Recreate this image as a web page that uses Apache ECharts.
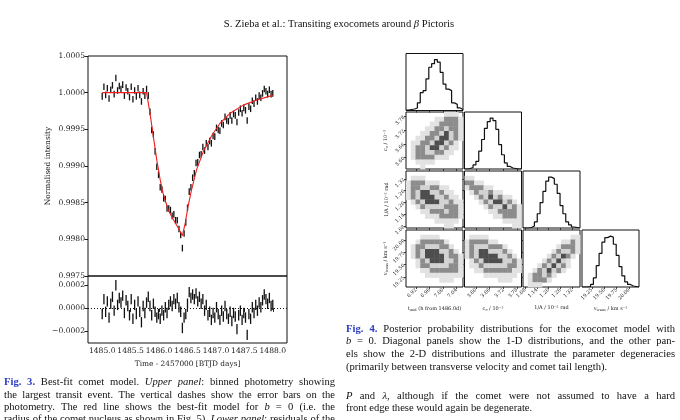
<!DOCTYPE html>
<html>
<head>
<meta charset="utf-8">
<script src="https://cdn.jsdelivr.net/npm/echarts@6/dist/echarts.min.js"></script>
<style>
  html, body { margin: 0; padding: 0; background: #fff; }
  #chart { width: 680px; height: 420px; }
</style>
</head>
<body>
<div id="chart"></div>
<script>
// ---- Fig. 3 : binned photometry, time = BTJD - 2457000 ----
const binStart = 1485.0
const binStep = 0.03
const flux = [
  0.99995, 1.00008, 0.99997, 1.00006, 0.99992, 1.00004, 1.00010, 0.99998, 1.00020, 1.00003,
  1.00009, 1.00005, 1.00011, 0.99996, 1.00007, 1.00002, 0.99994, 1.00008, 0.99991, 1.00003,
  0.99995, 1.00006, 0.99997, 0.99988, 1.00002, 0.99996, 1.00005, 0.99996, 0.99974, 0.99949,
  0.99943, 0.99920, 0.99899, 0.99888, 0.99871, 0.99868, 0.99856, 0.99855, 0.99842, 0.99842,
  0.99840, 0.99832, 0.99834, 0.99826, 0.99826, 0.99814, 0.99806, 0.99788, 0.99808, 0.99823,
  0.99843, 0.99865, 0.99871, 0.99884, 0.99890, 0.99904, 0.99905, 0.99915, 0.99916, 0.99926,
  0.99921, 0.99931, 0.99926, 0.99934, 0.99931, 0.99941, 0.99940, 0.99952, 0.99949, 0.99948,
  0.99958, 0.99956, 0.99967, 0.99962, 0.99961, 0.99969, 0.99962, 0.99971, 0.99969, 0.99960,
  0.99973, 0.99978, 0.99972, 0.99979, 0.99976, 0.99962, 0.99981, 0.99978, 0.99989, 0.99985,
  0.99993, 0.99988, 0.99996, 0.99993, 0.99999, 1.00005, 1.00002, 0.99998, 1.00004, 0.99998,
  0.99999
]
const resid = [
  -0.00005, 0.00008, -0.00003, 0.00006, -0.00008, 0.00004, 0.00010, -0.00002, 0.00020, 0.00003,
  0.00009, 0.00005, 0.00011, -0.00004, 0.00007, 0.00002, -0.00006, 0.00008, -0.00009, 0.00003,
  -0.00005, 0.00006, -0.00003, -0.00012, 0.00002, -0.00004, 0.00005, 0.00010, 0.00002, -0.00006,
  0.00004, -0.00003, -0.00008, -0.00005, -0.00009, -0.00002, -0.00006, 0.00001, -0.00004, 0.00003,
  0.00006, 0.00002, 0.00008, 0.00004, 0.00009, 0.00001, -0.00003, -0.00017, -0.00008, -0.00005,
  0.00004, 0.00014, 0.00009, 0.00012, 0.00008, 0.00013, 0.00006, 0.00010, 0.00004, 0.00008,
  -0.00002, 0.00003, -0.00006, -0.00003, -0.00010, -0.00004, -0.00008, 0.00001, -0.00005, -0.00010,
  -0.00002, -0.00007, 0.00002, -0.00005, -0.00009, -0.00003, -0.00011, -0.00004, -0.00007, -0.00018,
  -0.00006, -0.00002, -0.00010, -0.00004, -0.00008, -0.00023, -0.00005, -0.00009, 0.00001, -0.00004,
  0.00003, -0.00002, 0.00005, 0.00001, 0.00007, 0.00012, 0.00008, 0.00004, 0.00009, 0.00002,
  0.00003
]
const fluxErr = 0.000045
const modelTime = [1485.00, 1485.78, 1485.84, 1485.90, 1485.96, 1486.02, 1486.07, 1486.16, 1486.25, 1486.34,
  1486.41, 1486.46, 1486.51, 1486.57, 1486.66, 1486.78, 1486.93, 1487.07, 1487.25, 1487.48, 1487.72, 1487.98, 1488.00]
const modelFlux = [1.00000, 1.00000, 0.99972, 0.99940, 0.99908, 0.99881, 0.99863, 0.99840, 0.99827, 0.99815,
  0.99805, 0.99822, 0.99845, 0.99867, 0.99895, 0.99920, 0.99942, 0.99958, 0.99972, 0.99983, 0.99990, 0.99996, 0.99996]
const timeTicks = [1485.0, 1485.5, 1486.0, 1486.5, 1487.0, 1487.5, 1488.0]
const fluxTicks = [0.9975, 0.9980, 0.9985, 0.9990, 0.9995, 1.0000, 1.0005]
const residTicks = [-0.0002, 0, 0.0002]

// ---- Fig. 4 : corner plot ----
const tmidRange = [6.89, 7.06]
const ceRange = [3.55, 3.80]
const invARange = [1.07, 1.36]
const vRange = [19.05, 20.20]
const tmidTicks = [6.92, 6.96, 7.00, 7.04]
const ceTicks = [3.60, 3.66, 3.72, 3.78]
const invATicks = [1.08, 1.14, 1.20, 1.26, 1.32]
const vTicks = [19.25, 19.50, 19.75, 20.00]
// 1-D histograms, 20 bins, relative counts
const histTmid = [0.01, 0.02, 0.03, 0.05, 0.15, 0.35, 0.39, 0.62, 0.85, 0.92, 1.0, 0.95, 0.75, 0.52, 0.42, 0.39, 0.15, 0.12, 0.05, 0.02]
const histCe = [0, 0.01, 0.03, 0.08, 0.15, 0.35, 0.58, 0.80, 0.93, 1.0, 0.95, 0.78, 0.48, 0.28, 0.12, 0.05, 0.02, 0.01, 0, 0]
const histInvA = [0, 0, 0.01, 0.04, 0.12, 0.28, 0.50, 0.72, 0.92, 1.0, 0.97, 0.86, 0.68, 0.44, 0.28, 0.12, 0.06, 0.02, 0.01, 0]
const histV = [0, 0, 0.01, 0.05, 0.18, 0.42, 0.66, 0.88, 0.97, 1.0, 0.98, 0.84, 0.62, 0.40, 0.22, 0.10, 0.05, 0.02, 0.01, 0]
// 2-D density, top row first: 0 empty, 1 sparse points, 2 outer contour, 3 inside, 4 core
const densTmidCe = [
  '000000001110', '000000112221', '000001122221', '000011223221', '000112234321', '001122344321',
  '011223443210', '012234432110', '012233221100', '012222111000', '001111000000', '000100000000']
const densTmidInvA = [
  '000000000000', '011100000000', '122211100000', '122332211000', '123443321100', '123444332110',
  '012344433211', '001233332221', '000112223221', '000011122221', '000000111110', '000000001100']
const densCeInvA = [
  '000000000000', '110000000000', '221100000000', '122211000000', '012332110000', '001234321100',
  '000123443210', '000012334321', '000001122221', '000000112221', '000000001111', '000000000011']
const densTmidV = [
  '000000000000', '000111100000', '001222221000', '012233322100', '012344433210', '012344443221',
  '001234443321', '001223333221', '000112222221', '000011111111', '000000011100', '000000000000']
const densCeV = [
  '000000000000', '011110000000', '122221100000', '123332221000', '123443332100', '123444433210',
  '012344443321', '011233333221', '001122222211', '000011111110', '000000011100', '000000000000']
const densInvAV = [
  '000000000000', '000000000011', '000000001121', '000000012221', '000000123321', '000001234210',
  '000012343100', '000123432100', '001234321000', '012232100000', '012221000000', '011100000000']

const ranges = [tmidRange, ceRange, invARange, vRange]
const ticks = [tmidTicks, ceTicks, invATicks, vTicks]
const hists = [histTmid, histCe, histInvA, histV]
const dens = { '1,0': densTmidCe, '2,0': densTmidInvA, '2,1': densCeInvA, '3,0': densTmidV, '3,1': densCeV, '3,2': densInvAV }
const xNames = ['{n|t}{s|mid}{n| (h from 1486.0d)}', 'c{s|e}{n| / 10⁻³}', '1/A / 10⁻² rad', 'v{s|trans}{n| / km s⁻¹}']
const shades = ['#ffffff', '#e2e2e2', '#8c8c8c', '#d2d2d2', '#4e4e4e']

const chart = echarts.init(document.getElementById('chart'))
const serif = 'DejaVu Serif'
const ink = '#1a1a1a'

const times = flux.map((_, i) => +(binStart + binStep * i).toFixed(2))

const grids = [
  { left: 88, top: 56, width: 199, height: 220 },
  { left: 88, top: 276, width: 199, height: 67 }
]
const xAxes = [
  { gridIndex: 0, type: 'value', min: 1484.75, max: 1488.25, axisLine: { show: false },
    axisLabel: { show: false }, axisTick: { show: false }, splitLine: { show: false } },
  { gridIndex: 1, type: 'value', min: 1484.75, max: 1488.25, axisLine: { show: false },
    axisTick: { customValues: timeTicks, length: 3.5, lineStyle: { color: ink } },
    axisLabel: { customValues: timeTicks, formatter: v => v.toFixed(1), margin: 4, fontSize: 7.6, fontFamily: serif, color: ink },
    splitLine: { show: false },
    name: 'Time - 2457000 [BTJD days]', nameLocation: 'middle', nameGap: 18,
    nameTextStyle: { fontSize: 7.4, fontFamily: serif, color: ink } }
]
const yAxes = [
  { gridIndex: 0, type: 'value', min: 0.9975, max: 1.0005, axisLine: { show: false },
    axisTick: { customValues: fluxTicks, length: 3.5, lineStyle: { color: ink } },
    axisLabel: { customValues: fluxTicks, formatter: v => v.toFixed(4), margin: 3, fontSize: 7.6, fontFamily: serif, color: ink },
    splitLine: { show: false },
    name: 'Normalised intensity', nameLocation: 'middle', nameGap: 36,
    nameTextStyle: { fontSize: 7.4, fontFamily: serif, color: ink } },
  { gridIndex: 1, type: 'value', min: -0.0003, max: 0.00028, axisLine: { show: false },
    axisTick: { customValues: residTicks, length: 3.5, lineStyle: { color: ink } },
    axisLabel: { customValues: residTicks, margin: 3, fontSize: 7.6, fontFamily: serif, color: ink,
      formatter: v => (v < 0 ? '\u2212' : '') + Math.abs(v).toFixed(4) },
    splitLine: { show: false } }
]

const errBar = (params, api) => {
  const lo = api.coord([api.value(0), api.value(1) - fluxErr])
  const hi = api.coord([api.value(0), api.value(1) + fluxErr])
  return { type: 'line', shape: { x1: lo[0], y1: lo[1], x2: hi[0], y2: hi[1] }, style: { stroke: '#111', lineWidth: 1.3 } }
}

const series = [
  { type: 'custom', xAxisIndex: 0, yAxisIndex: 0, renderItem: errBar, silent: true, z: 2,
    data: times.map((t, i) => [t, flux[i]]) },
  { type: 'line', xAxisIndex: 0, yAxisIndex: 0, showSymbol: false, silent: true, z: 3,
    lineStyle: { color: '#ee1c1c', width: 1.1 }, data: modelTime.map((t, i) => [t, modelFlux[i]]) },
  { type: 'custom', xAxisIndex: 1, yAxisIndex: 1, renderItem: errBar, silent: true, z: 2,
    data: times.map((t, i) => [t, resid[i]]),
    markLine: { silent: true, symbol: 'none', label: { show: false },
      lineStyle: { color: '#111', type: [1, 2], width: 1 }, data: [{ yAxis: 0 }] } }
]

// corner plot panels
const cellLeft = [406, 464.5, 523, 582]
const cellTop = [53.5, 112, 171, 230]
const cellSize = 57
const smallLabel = { fontSize: 5, fontFamily: serif, color: ink, rotate: 45, margin: 2 }
const nameStyle = { fontSize: 5, fontFamily: serif + ', DejaVu Sans', color: ink,
  rich: { n: { fontSize: 5, fontFamily: serif }, s: { fontSize: 3.6, fontFamily: serif, padding: [3, 0, 0, 0] } } }

for (let r = 0; r < 4; r++) {
  for (let c = 0; c <= r; c++) {
    const gi = grids.length
    grids.push({ left: cellLeft[c], top: cellTop[r], width: cellSize, height: cellSize })
    const xa = { gridIndex: gi, type: 'value', min: ranges[c][0], max: ranges[c][1], axisLine: { show: false },
      splitLine: { show: false },
      axisTick: { customValues: ticks[c], length: 2, lineStyle: { color: ink, width: 0.8 } },
      axisLabel: Object.assign({ show: r === 3, customValues: ticks[c], formatter: v => v.toFixed(2) }, smallLabel) }
    if (r === 3) Object.assign(xa, { name: xNames[c], nameLocation: 'middle', nameGap: 18, nameTextStyle: nameStyle })
    let ya
    if (r === c) {
      ya = { gridIndex: gi, type: 'value', min: 0, max: 1.12, axisLine: { show: false }, splitLine: { show: false },
        axisTick: { show: false }, axisLabel: { show: false } }
    } else {
      ya = { gridIndex: gi, type: 'value', min: ranges[r][0], max: ranges[r][1], axisLine: { show: false },
        splitLine: { show: false },
        axisTick: { customValues: ticks[r], length: 2, lineStyle: { color: ink, width: 0.8 } },
        axisLabel: Object.assign({ show: c === 0, customValues: ticks[r], formatter: v => v.toFixed(2) }, smallLabel) }
      if (c === 0) Object.assign(ya, { name: xNames[r], nameLocation: 'middle', nameGap: 17, nameTextStyle: nameStyle })
    }
    xAxes.push(xa)
    yAxes.push(ya)
    const ai = xAxes.length - 1
    if (r === c) {
      const h = hists[c]
      const [lo, hi] = ranges[c]
      const w = (hi - lo) / h.length
      const pts = h.map((v, j) => [lo + j * w, v])
      pts.push([hi, h[h.length - 1]])
      series.push({ type: 'line', step: 'end', xAxisIndex: ai, yAxisIndex: ai, showSymbol: false, silent: true,
        lineStyle: { color: '#111', width: 1.2 }, data: pts })
    } else {
      const g = dens[r + ',' + c]
      const [x0, x1] = ranges[c]
      const [y0, y1] = ranges[r]
      const n = g.length
      const dx = (x1 - x0) / g[0].length
      const dy = (y1 - y0) / n
      const cells = []
      g.forEach((row, i) => {
        row.split('').forEach((ch, j) => {
          const lvl = +ch
          if (lvl) cells.push([x0 + j * dx, x0 + (j + 1) * dx, y1 - (i + 1) * dy, y1 - i * dy, lvl])
        })
      })
      series.push({ type: 'custom', xAxisIndex: ai, yAxisIndex: ai, silent: true, encode: { x: [0, 1], y: [2, 3] },
        data: cells,
        renderItem: (params, api) => {
          const p0 = api.coord([api.value(0), api.value(3)])
          const p1 = api.coord([api.value(1), api.value(2)])
          return { type: 'rect', shape: { x: p0[0], y: p0[1], width: p1[0] - p0[0] + 0.4, height: p1[1] - p0[1] + 0.4 },
            style: { fill: shades[api.value(4)] } }
        } })
    }
  }
}
grids.forEach(g => Object.assign(g, { show: true, borderColor: '#111', borderWidth: 1, backgroundColor: 'transparent', outerBoundsMode: 'none' }))

// ---- page text ----
const measureCtx = document.createElement('canvas').getContext('2d')
const kinds = {
  n: { fontStyle: 'normal', fontWeight: 'normal', fill: '#111' },
  i: { fontStyle: 'italic', fontWeight: 'normal', fill: '#111' },
  b: { fontStyle: 'normal', fontWeight: 'bold', fill: '#2a3bc4' }
}
const textEls = []
function fontOf(k, size) {
  return `${kinds[k].fontStyle} ${kinds[k].fontWeight} ${size}px "Liberation Serif"`
}
function widthOf(t, k, size) {
  measureCtx.font = fontOf(k, size)
  return measureCtx.measureText(t).width
}
// place words of a line; width given -> justified, center given -> centred
function placeLine(segs, x, y, size, opts = {}) {
  const words = []
  let cur = []
  segs.forEach(([t, k]) => {
    t.split(' ').forEach((part, j) => {
      if (j > 0 && cur.length) { words.push(cur); cur = [] }
      if (part) cur.push({ t: part, k })
    })
  })
  if (cur.length) words.push(cur)
  const ww = words.map(w => w.reduce((s, run) => s + widthOf(run.t, run.k, size), 0))
  const total = ww.reduce((a, b) => a + b, 0)
  const space = widthOf(' ', 'n', size)
  let gap = space
  if (opts.width && words.length > 1) gap = (opts.width - total) / (words.length - 1)
  let px = x
  if (opts.center != null) px = opts.center - (total + space * (words.length - 1)) / 2
  words.forEach((w, wi) => {
    let rx = px
    w.forEach(run => {
      textEls.push({ type: 'text', x: rx, y, silent: true,
        style: { text: run.t, fontFamily: 'Liberation Serif', fontSize: size, fontStyle: kinds[run.k].fontStyle,
          fontWeight: kinds[run.k].fontWeight, fill: kinds[run.k].fill, align: 'left', verticalAlign: 'middle' } })
      rx += widthOf(run.t, run.k, size)
    })
    px += ww[wi] + gap
  })
}

const header = [['S. Zieba et al.: Transiting exocomets around ', 'n'], ['\u03b2', 'i'], [' Pictoris', 'n']]
const fig3Caption = [
  [['Fig. 3.', 'b'], [' Best-fit comet model. ', 'n'], ['Upper panel', 'i'], [': binned photometry showing', 'n']],
  [['the largest transit event. The vertical dashes show the error bars on the', 'n']],
  [['photometry. The red line shows the best-fit model for ', 'n'], ['b', 'i'], [' = 0 (i.e. the', 'n']],
  [['radius of the comet nucleus as shown in Fig. 5). ', 'n'], ['Lower panel', 'i'], [': residuals of the', 'n']]
]
const fig4Caption = [
  [['Fig. 4.', 'b'], [' Posterior probability distributions for the exocomet model with', 'n']],
  [['b', 'i'], [' = 0. Diagonal panels show the 1-D distributions, and the other pan-', 'n']],
  [['els show the 2-D distributions and illustrate the parameter degeneracies', 'n']],
  [['(primarily between transverse velocity and comet tail length).', 'n']]
]
const bodyText = [
  [['P', 'i'], [' and ', 'n'], ['\u03bb', 'i'], [', although if the comet were not assumed to have a hard', 'n']],
  [['front edge these would again be degenerate.', 'n']]
]

const capSize = 10.6
placeLine(header, 0, 24.5, 10.6, { center: 339 })
fig3Caption.forEach((ln, i) => placeLine(ln, 4, 382.5 + i * 12.4, capSize, { width: 331 }))
fig4Caption.forEach((ln, i) => placeLine(ln, 346, 329 + i * 12.6, capSize, i < 3 ? { width: 329 } : {}))
bodyText.forEach((ln, i) => placeLine(ln, 346, 396 + i * 12.4, capSize, i < 1 ? { width: 329 } : {}))

chart.setOption({
  animation: false,
  backgroundColor: '#fff',
  grid: grids,
  xAxis: xAxes,
  yAxis: yAxes,
  series: series,
  graphic: textEls
})
</script>
</body>
</html>
